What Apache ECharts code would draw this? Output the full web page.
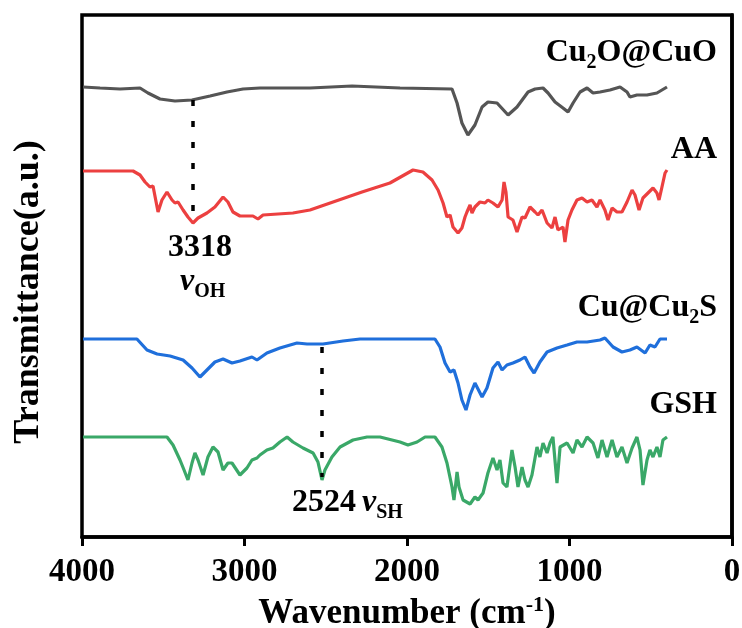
<!DOCTYPE html>
<html>
<head>
<meta charset="utf-8">
<script src="https://cdn.jsdelivr.net/npm/echarts@6/dist/echarts.min.js"></script>
<style>
  html, body { margin: 0; padding: 0; background: #fff; }
  #chart { width: 742px; height: 628px; }
</style>
</head>
<body>
<div id="chart"></div>
<script>
// FTIR spectra, stacked with vertical offsets (transmittance in arbitrary units)
const xTicks = [4000, 3000, 2000, 1000, 0];

const cuoWn = [3994, 3889, 3766, 3643, 3594, 3520, 3428, 3323, 3212, 3108, 3009, 2905, 2597, 2338, 2043, 1723, 1692, 1662, 1625, 1582, 1538, 1502, 1446, 1378, 1323, 1255, 1212, 1163, 1132, 1089, 1040, 1009, 978, 935, 892, 855, 812, 751, 689, 646, 628, 585, 523, 462, 431, 400];
const cuoT  = [450, 449, 448, 449, 444, 438, 436, 437, 441, 445, 448, 449, 449, 451, 449, 448, 434, 414, 402, 412, 430, 435, 434, 422, 430, 445, 448, 449, 444, 435, 429, 425, 434, 445, 449, 444, 445, 447, 450, 445, 440, 442, 442, 444, 447, 450];

const aaWn = [3994, 3686, 3643, 3612, 3582, 3563, 3532, 3508, 3477, 3446, 3428, 3409, 3378, 3348, 3317, 3286, 3231, 3182, 3132, 3102, 3071, 3028, 2948, 2917, 2886, 2702, 2597, 2455, 2277, 2105, 1963, 1902, 1846, 1809, 1778, 1754, 1735, 1717, 1686, 1662, 1643, 1631, 1612, 1600, 1582, 1551, 1520, 1502, 1471, 1440, 1415, 1403, 1391, 1378, 1348, 1323, 1292, 1274, 1243, 1212, 1194, 1169, 1138, 1108, 1089, 1071, 1040, 1028, 1009, 985, 954, 923, 892, 862, 831, 812, 782, 763, 738, 708, 677, 646, 615, 597, 572, 548, 517, 486, 462, 449, 431, 412, 400];
const aaT  = [366, 366, 362, 355, 350, 351, 325, 337, 345, 337, 334, 335, 327, 320, 314, 319, 324, 330, 340, 335, 325, 321, 321, 318, 322, 324, 327, 335, 345, 354, 367, 365, 357, 347, 334, 320, 322, 310, 304, 309, 320, 325, 332, 324, 330, 335, 334, 337, 334, 330, 337, 355, 345, 320, 317, 305, 320, 319, 330, 325, 322, 327, 314, 309, 320, 307, 310, 295, 317, 327, 337, 339, 335, 337, 330, 337, 327, 317, 329, 325, 325, 335, 347, 342, 327, 339, 344, 349, 344, 337, 350, 364, 367];

const cusWn = [3994, 3662, 3600, 3538, 3458, 3378, 3323, 3274, 3231, 3182, 3132, 3077, 3028, 2954, 2923, 2862, 2782, 2677, 2615, 2517, 2394, 2289, 2166, 2043, 1828, 1797, 1766, 1735, 1711, 1686, 1662, 1637, 1612, 1582, 1538, 1508, 1471, 1440, 1415, 1385, 1348, 1305, 1274, 1243, 1218, 1182, 1138, 1077, 1015, 954, 892, 812, 782, 732, 677, 628, 585, 535, 505, 474, 443, 400];
const cusT  = [198, 198, 187, 183, 181, 177, 169, 160, 167, 175, 178, 174, 176, 180, 177, 184, 189, 194, 193, 193, 196, 198, 198, 198, 198, 190, 174, 165, 167, 154, 137, 127, 142, 154, 140, 149, 169, 175, 167, 172, 174, 177, 180, 170, 164, 175, 185, 189, 192, 195, 195, 197, 199, 190, 185, 187, 190, 184, 192, 190, 198, 198];

const gshWn = [3994, 3477, 3440, 3397, 3372, 3348, 3323, 3305, 3286, 3255, 3225, 3194, 3163, 3132, 3102, 3077, 3028, 2985, 2954, 2923, 2905, 2862, 2825, 2782, 2738, 2702, 2640, 2578, 2548, 2523, 2505, 2462, 2412, 2332, 2246, 2166, 2043, 1994, 1938, 1889, 1828, 1785, 1754, 1723, 1711, 1692, 1680, 1655, 1612, 1582, 1563, 1532, 1502, 1471, 1446, 1428, 1409, 1385, 1354, 1335, 1317, 1292, 1274, 1255, 1231, 1200, 1182, 1163, 1138, 1120, 1102, 1077, 1058, 1015, 978, 954, 923, 892, 855, 825, 800, 769, 738, 708, 677, 646, 615, 585, 566, 548, 523, 505, 486, 462, 443, 425, 400];
const gshT  = [100, 100, 92, 77, 67, 57, 74, 84, 77, 62, 80, 90, 85, 67, 74, 74, 62, 69, 77, 79, 82, 87, 89, 95, 100, 95, 89, 84, 75, 57, 67, 80, 90, 97, 100, 100, 95, 92, 95, 100, 100, 90, 74, 50, 37, 65, 50, 37, 33, 40, 37, 44, 64, 79, 67, 77, 54, 50, 87, 70, 50, 70, 57, 50, 62, 90, 80, 94, 84, 94, 100, 54, 90, 94, 84, 97, 90, 100, 94, 79, 97, 80, 97, 80, 90, 74, 89, 100, 87, 52, 77, 87, 80, 90, 80, 97, 100];

// marked bands: wavenumber and the vertical extent of the guide line
const ohBand = { wn: 3318, from: 437, to: 314 };
const shBand = { wn: 2524, from: 190, to: 60 };

const zip = (a, b) => a.map((v, i) => [v, b[i]]);

const SERIF = '"Liberation Serif", "Times New Roman", serif';
const lineW = 3.2;

function guide(band) {
  return {
    silent: true,
    symbol: 'none',
    label: { show: false },
    lineStyle: { color: '#000', width: 3.5, type: [6, 15] },
    data: [[{ coord: [band.wn, band.from] }, { coord: [band.wn, band.to] }]]
  };
}

const chart = echarts.init(document.getElementById('chart'), null, { renderer: 'canvas' });

const rich = {
  b: { fontFamily: SERIF, fontWeight: 'bold', fontSize: 32, lineHeight: 40, color: '#000', verticalAlign: 'middle' },
  sub: { fontFamily: SERIF, fontWeight: 'bold', fontSize: 20, lineHeight: 20, color: '#000', verticalAlign: 'bottom' },
  nu: { fontFamily: SERIF, fontWeight: 'bold', fontStyle: 'italic', fontSize: 32, lineHeight: 40, color: '#000', verticalAlign: 'middle' },
  yt: { fontFamily: SERIF, fontWeight: 'bold', fontSize: 36, lineHeight: 40, color: '#000', verticalAlign: 'middle' }
};

function txt(x, y, text, align, rot) {
  return {
    type: 'text', x: x, y: y, rotation: rot || 0,
    style: { text: text, rich: rich, align: align || 'right', verticalAlign: 'middle' },
    z: 10
  };
}

chart.setOption({
  animation: false,
  backgroundColor: '#fff',
  grid: { left: 82, right: 10, top: 15, bottom: 91, show: true, borderColor: '#000', borderWidth: 3.5, outerBoundsMode: 'none', containLabel: false },
  xAxis: {
    type: 'value', inverse: true, min: 0, max: 4000, interval: 1000,
    name: '{t|Wavenumber (cm}{s|-1}{t|)}',
    nameLocation: 'middle', nameGap: 51,
    nameTextStyle: {
      rich: {
        t: { fontFamily: SERIF, fontWeight: 'bold', fontSize: 35, lineHeight: 40, color: '#000', verticalAlign: 'middle' },
        s: { fontFamily: SERIF, fontWeight: 'bold', fontSize: 22, lineHeight: 22, color: '#000', verticalAlign: 'top' }
      }
    },
    axisLine: { show: true, onZero: false, lineStyle: { color: '#000', width: 3.5 } },
    axisTick: { show: true, inside: false, length: 9, lineStyle: { color: '#000', width: 3 } },
    axisLabel: { color: '#000', fontFamily: SERIF, fontWeight: 'bold', fontSize: 33, margin: 19,
      formatter: v => xTicks.includes(v) ? String(v) : '' },
    splitLine: { show: false }
  },
  yAxis: {
    type: 'value', min: 0, max: 522,
    axisLine: { show: true, lineStyle: { color: '#000', width: 3.5 } },
    axisTick: { show: false }, axisLabel: { show: false }, splitLine: { show: false }
  },
  series: [
    { name: 'Cu2O@CuO', type: 'line', data: zip(cuoWn, cuoT), showSymbol: false, lineStyle: { color: '#555555', width: lineW }, markLine: guide(ohBand) },
    { name: 'AA', type: 'line', data: zip(aaWn, aaT), showSymbol: false, lineStyle: { color: '#ec4040', width: lineW } },
    { name: 'Cu@Cu2S', type: 'line', data: zip(cusWn, cusT), showSymbol: false, lineStyle: { color: '#1f6fdb', width: lineW }, markLine: guide(shBand) },
    { name: 'GSH', type: 'line', data: zip(gshWn, gshT), showSymbol: false, lineStyle: { color: '#3aa868', width: lineW } }
  ],
  graphic: [
    txt(29, 292, '{yt|Transmittance(a.u.)}', 'center', Math.PI / 2),
    txt(717, 53, '{b|Cu}{sub|2}{b|O@CuO}'),
    txt(717, 150, '{b|AA}'),
    txt(717, 308, '{b|Cu@Cu}{sub|2}{b|S}'),
    txt(717, 405, '{b|GSH}'),
    txt(200, 248, '{b|3318}', 'center'),
    txt(180, 282, '{nu|ν}{sub|OH}', 'left'),
    txt(324, 503, '{b|2524}', 'center'),
    txt(362, 503, '{nu|ν}{sub|SH}', 'left')
  ]
});
</script>
</body>
</html>
